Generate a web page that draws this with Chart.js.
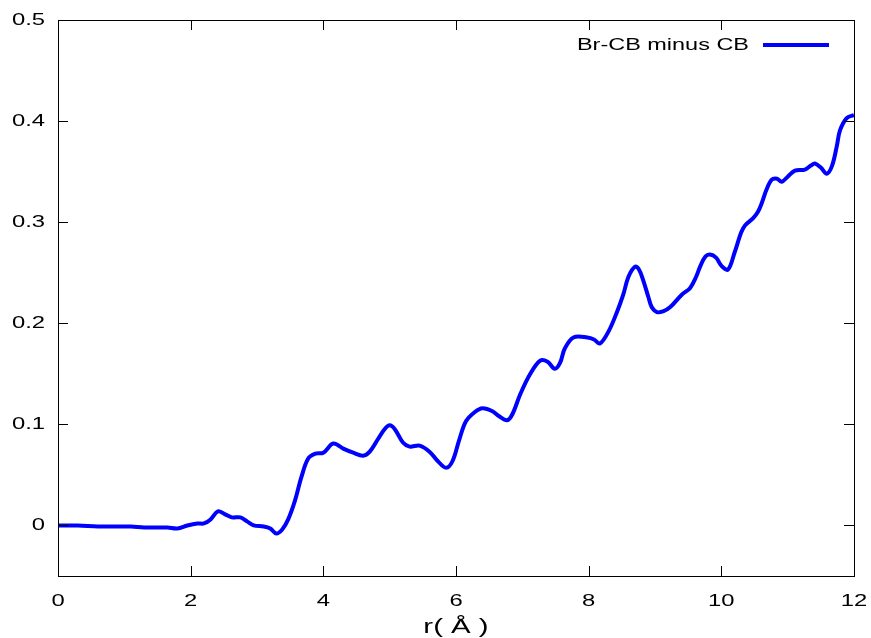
<!DOCTYPE html>
<html>
<head>
<meta charset="utf-8">
<script src="https://cdn.jsdelivr.net/npm/chart.js@4/dist/chart.umd.min.js"></script>
<style>
  html, body { margin: 0; padding: 0; background: #fff; }
  #wrap { width: 871px; height: 638px; }
</style>
</head>
<body>
<div id="wrap"><canvas id="chart" width="871" height="638"></canvas></div>
<script>
// r values (Angstrom) and the difference curve
const rValues = [0, 0.3, 0.6, 0.9, 1.1, 1.3, 1.5, 1.65, 1.8, 1.95, 2.1, 2.2, 2.3, 2.41, 2.52, 2.62, 2.75, 2.85, 2.95, 3.1, 3.2, 3.29, 3.38, 3.47, 3.57, 3.67, 3.77, 3.88, 4.0, 4.15, 4.3, 4.45, 4.6, 4.7, 4.82, 4.92, 5.0, 5.08, 5.2, 5.3, 5.45, 5.6, 5.72, 5.85, 5.95, 6.05, 6.15, 6.28, 6.4, 6.55, 6.65, 6.77, 6.85, 6.97, 7.12, 7.27, 7.38, 7.49, 7.57, 7.64, 7.77, 7.98, 8.08, 8.17, 8.3, 8.42, 8.52, 8.6, 8.7, 8.76, 8.82, 8.9, 8.95, 9.03, 9.13, 9.23, 9.4, 9.53, 9.62, 9.68, 9.76, 9.83, 9.92, 10.0, 10.1, 10.2, 10.3, 10.36, 10.48, 10.55, 10.61, 10.68, 10.76, 10.84, 10.91, 11.0, 11.11, 11.26, 11.35, 11.41, 11.5, 11.59, 11.67, 11.74, 11.79, 11.89, 12.0];
const diffValues = [0, 0, -0.001, -0.001, -0.001, -0.002, -0.002, -0.002, -0.003, 0.0, 0.002, 0.002, 0.006, 0.014, 0.011, 0.008, 0.008, 0.004, 0.0, -0.001, -0.003, -0.008, -0.004, 0.006, 0.024, 0.048, 0.066, 0.071, 0.072, 0.081, 0.076, 0.072, 0.069, 0.073, 0.085, 0.095, 0.099, 0.095, 0.082, 0.078, 0.079, 0.073, 0.064, 0.057, 0.064, 0.085, 0.103, 0.112, 0.116, 0.113, 0.108, 0.104, 0.11, 0.13, 0.15, 0.163, 0.162, 0.155, 0.161, 0.175, 0.186, 0.186, 0.184, 0.18, 0.192, 0.21, 0.228, 0.246, 0.256, 0.253, 0.243, 0.226, 0.216, 0.211, 0.212, 0.216, 0.228, 0.235, 0.246, 0.256, 0.266, 0.268, 0.265, 0.257, 0.253, 0.27, 0.29, 0.297, 0.304, 0.31, 0.319, 0.332, 0.342, 0.343, 0.34, 0.345, 0.351, 0.352, 0.356, 0.358, 0.354, 0.348, 0.356, 0.375, 0.391, 0.403, 0.406];

const xTicks = [0, 2, 4, 6, 8, 10, 12];
const yTicks = [0, 0.1, 0.2, 0.3, 0.4, 0.5];
const xTickLabels = ['0', '2', '4', '6', '8', '10', '12'];
const yTickLabels = ['0', '0.1', '0.2', '0.3', '0.4', '0.5'];

const seriesLabel = 'Br-CB minus CB';
const xTitle = 'r( Å )';
const lineColor = '#0000ff';
const fontFamily = '"Liberation Sans", Arial, sans-serif';

// the original output uses horizontally stretched text, so draw it scaled
function drawStretched(ctx, text, x, y, align, size, sx) {
    ctx.save();
    ctx.translate(x, y);
    ctx.scale(sx, 1);
    ctx.font = size + 'px ' + fontFamily;
    ctx.textAlign = align;
    ctx.textBaseline = 'middle';
    ctx.fillStyle = '#000';
    ctx.fillText(text, 0, 0);
    ctx.restore();
}

// gnuplot-like frame: border, inward ticks on all sides, labels and the legend
const framePlugin = {
    id: 'frame',
    afterDatasetsDraw(chart) {
        const ctx = chart.ctx;
        const a = chart.chartArea;
        const xs = chart.scales.x;
        const ys = chart.scales.y;
        const len = 10;
        ctx.save();
        ctx.strokeStyle = '#000';
        ctx.lineWidth = 1;
        ctx.beginPath();
        xTicks.forEach(v => {
            const px = Math.round(xs.getPixelForValue(v)) + 0.5;
            ctx.moveTo(px, a.bottom); ctx.lineTo(px, a.bottom - len);
            ctx.moveTo(px, a.top); ctx.lineTo(px, a.top + len);
        });
        yTicks.forEach(v => {
            const py = Math.round(ys.getPixelForValue(v)) + 0.5;
            ctx.moveTo(a.left, py); ctx.lineTo(a.left + len, py);
            ctx.moveTo(a.right, py); ctx.lineTo(a.right - len, py);
        });
        ctx.stroke();
        ctx.strokeRect(Math.round(a.left) + 0.5, Math.round(a.top) + 0.5,
            Math.round(a.right - a.left), Math.round(a.bottom - a.top));
        ctx.restore();

        // tick labels
        xTicks.forEach((v, i) => {
            drawStretched(ctx, xTickLabels[i], xs.getPixelForValue(v), a.bottom + 25, 'center', 17, 1.4);
        });
        yTicks.forEach((v, i) => {
            drawStretched(ctx, yTickLabels[i], a.left - 13, ys.getPixelForValue(v), 'right', 17, 1.4);
        });

        // axis title
        drawStretched(ctx, xTitle, (a.left + a.right) / 2, a.bottom + 51, 'center', 21, 1.4);

        // legend
        const ly = a.top + 25;
        drawStretched(ctx, seriesLabel, a.right - 105, ly, 'right', 17, 1.38);
        ctx.save();
        ctx.strokeStyle = lineColor;
        ctx.lineWidth = 4;
        ctx.beginPath();
        ctx.moveTo(a.right - 91, ly);
        ctx.lineTo(a.right - 25, ly);
        ctx.stroke();
        ctx.restore();
    }
};

const points = rValues.map((r, i) => ({ x: r, y: diffValues[i] }));

new Chart(document.getElementById('chart'), {
    type: 'line',
    data: {
        datasets: [{
            label: seriesLabel,
            data: points,
            borderColor: lineColor,
            borderWidth: 4,
            pointRadius: 0,
            tension: 0.35,
            fill: false
        }]
    },
    options: {
        responsive: false,
        animation: false,
        layout: { padding: { top: 20, right: 17, left: 0, bottom: 0 } },
        plugins: {
            legend: { display: false },
            tooltip: { enabled: false }
        },
        scales: {
            x: {
                type: 'linear',
                min: 0,
                max: 12,
                afterBuildTicks: scale => { scale.ticks = xTicks.map(v => ({ value: v })); },
                afterFit: scale => { scale.height = 62; },
                grid: { display: false, drawTicks: false },
                border: { display: false },
                ticks: { display: false }
            },
            y: {
                type: 'linear',
                min: -0.05,
                max: 0.5,
                afterBuildTicks: scale => { scale.ticks = yTicks.map(v => ({ value: v })); },
                afterFit: scale => { scale.width = 58; },
                grid: { display: false, drawTicks: false },
                border: { display: false },
                ticks: { display: false }
            }
        }
    },
    plugins: [framePlugin]
});
</script>
</body>
</html>
